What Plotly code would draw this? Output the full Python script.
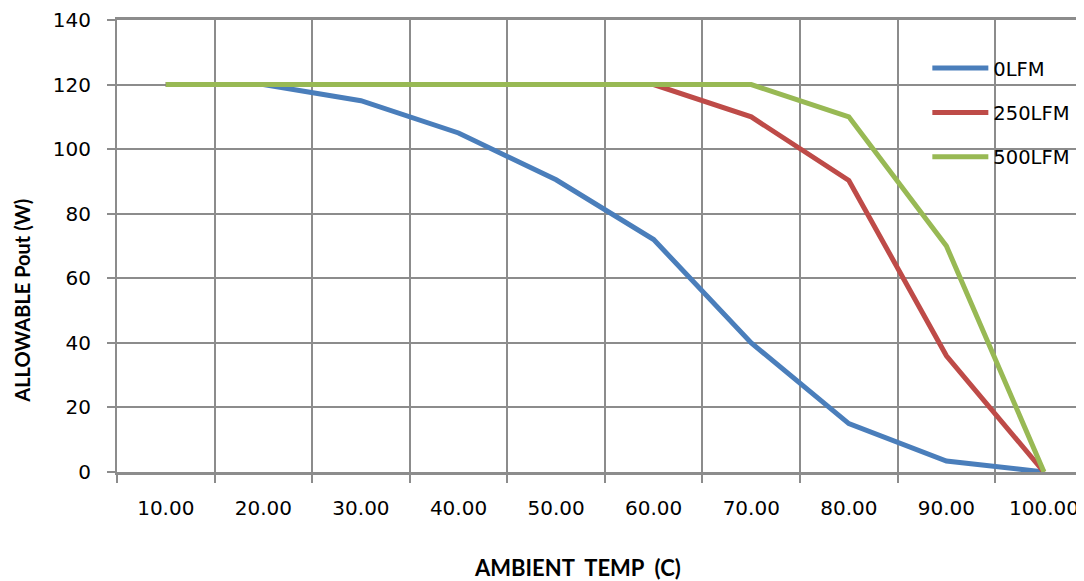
import plotly.graph_objects as go

temps = ["10.00", "20.00", "30.00", "40.00", "50.00", "60.00", "70.00", "80.00", "90.00", "100.00"]
lfm0 = [120, 120, 115, 105, 90.5, 72, 40, 15, 3.4, 0]
lfm250 = [120, 120, 120, 120, 120, 120, 110, 90.3, 36, 0]
lfm500 = [120, 120, 120, 120, 120, 120, 120, 110, 70, 0]
series_names = ["0LFM", "250LFM", "500LFM"]
colors = ["#4A7EBB", "#BE4B48", "#98B954"]
y_ticks = [0, 20, 40, 60, 80, 100, 120, 140]

TICKFONT = "DejaVu Sans"
TITLEFONT = "Lato"
GRID = "#8C8C8C"

fig = go.Figure()
for name, vals, col in zip(series_names, [lfm0, lfm250, lfm500], colors):
    fig.add_trace(go.Scatter(
        x=temps, y=vals, name=name, mode="lines",
        line=dict(color=col, width=5),
        legendgroup=name,
    ))

# page has an 8px body margin; figure is sized so it ends at the window edge
fig.update_layout(
    width=1076, height=573,
    margin=dict(l=109, r=0, t=10, b=109),
    paper_bgcolor="white", plot_bgcolor="white",
    font=dict(family=TICKFONT, size=20, color="black"),
    showlegend=True,
    legend=dict(
        x=0.838, y=0.936, xanchor="left", yanchor="top",
        bgcolor="rgba(0,0,0,0)", font=dict(size=19.5, family=TICKFONT),
        tracegroupgap=16, itemwidth=56,
    ),
    xaxis=dict(
        type="category", range=[-0.5, 9.41],
        tickson="boundaries", ticks="outside", ticklen=8, tickcolor=GRID, tickwidth=2,
        showgrid=True, gridcolor=GRID, gridwidth=2,
        showline=True, linecolor=GRID, linewidth=3, mirror=True,
        tickfont=dict(size=20, family=TICKFONT),
        ticklabelstandoff=16,
        zeroline=False,
    ),
    yaxis=dict(
        range=[0, 140], tickmode="array", tickvals=y_ticks,
        ticktext=[str(v) for v in y_ticks],
        ticks="outside", ticklen=8, tickcolor=GRID, tickwidth=2,
        showgrid=True, gridcolor=GRID, gridwidth=2,
        showline=True, linecolor=GRID, linewidth=2,
        tickfont=dict(size=20, family=TICKFONT),
        ticklabelstandoff=12, ticklabeloverflow="allow",
        zeroline=False,
    ),
    annotations=[
        dict(text="<b>AMBIENT&nbsp;&nbsp;TEMP&nbsp;&nbsp;(C)</b>", xref="paper", yref="paper",
             x=0.4757, y=-0.2115, xanchor="center", yanchor="middle",
             showarrow=False, font=dict(size=22, family=TITLEFONT)),
        dict(text="<b>ALLOWABLE Pout (W)</b>", xref="paper", yref="paper",
             x=-0.0982, y=0.379, xanchor="center", yanchor="middle",
             textangle=-90, showarrow=False, font=dict(size=20, family=TITLEFONT)),
    ],
)

fig.write_html("out.html")
